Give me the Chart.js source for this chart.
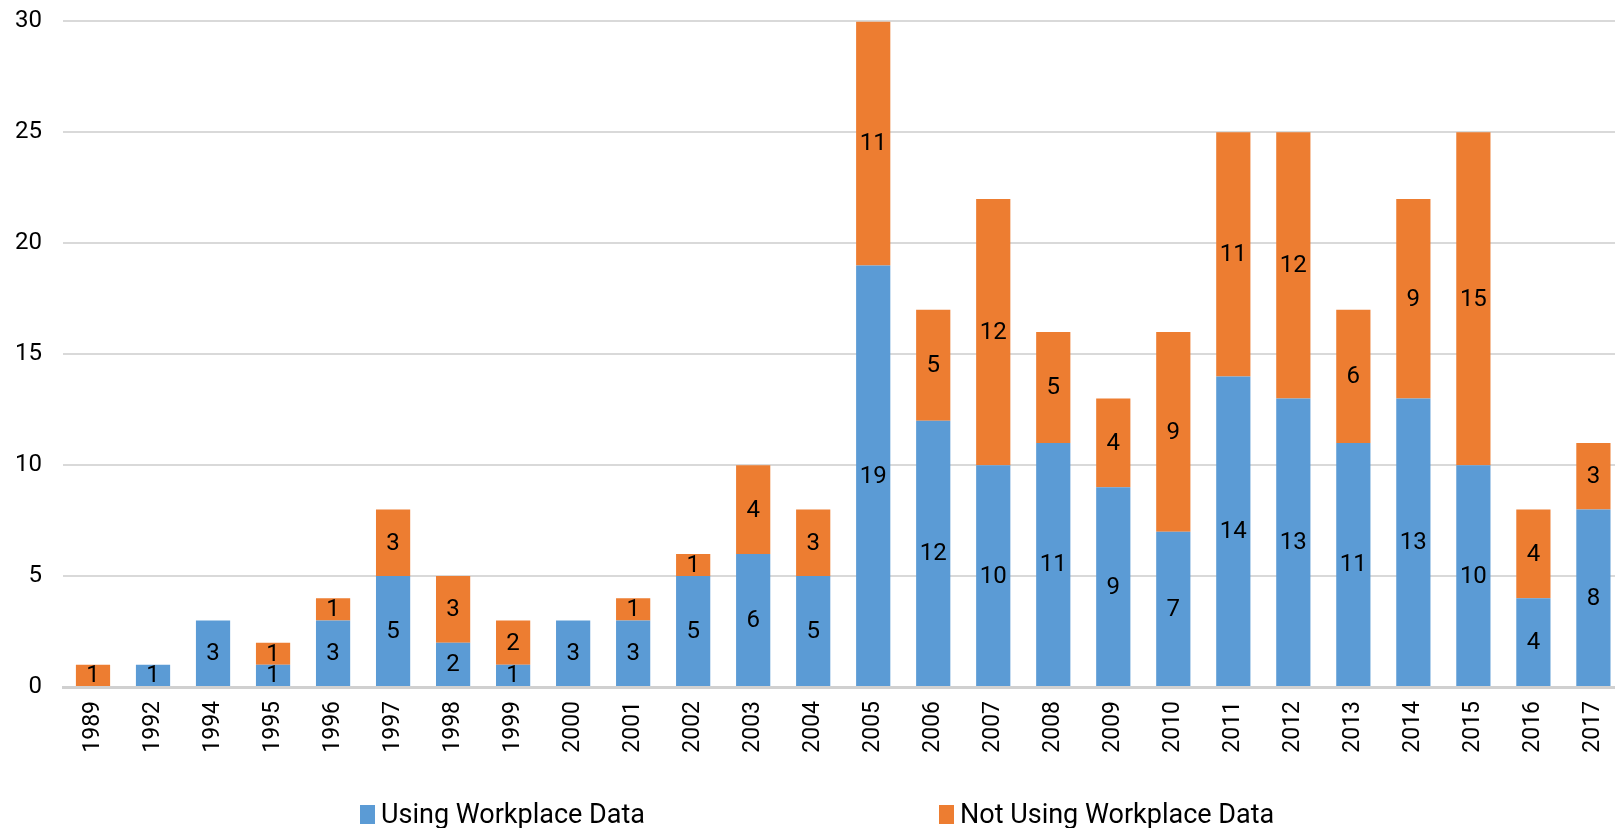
<!DOCTYPE html>
<html>
<head>
<meta charset="utf-8">
<script src="https://cdn.jsdelivr.net/npm/chart.js@4"></script>
<style>
  html, body { margin: 0; padding: 0; background: #fff; overflow: hidden; }
  #wrap { position: relative; width: 1635px; height: 828px; overflow: hidden; }
  #chart { position: absolute; left: 0; top: -14px; }
  #legend { position: absolute; top: 798px; left: 0; width: 1615px; font-family: Roboto, sans-serif; font-size: 27px; color: #000; }
  .item { position: absolute; top: 0; display: flex; align-items: center; white-space: nowrap; }
  .box { width: 15px; height: 19px; margin-right: 6px; }
</style>
</head>
<body>
<div id="wrap">
  <canvas id="chart" width="1635" height="842"></canvas>
  <div id="legend"></div>
</div>
<script>
const years = ["1989", "1992", "1994", "1995", "1996", "1997", "1998", "1999", "2000", "2001", "2002", "2003", "2004",
  "2005", "2006", "2007", "2008", "2009", "2010", "2011", "2012", "2013", "2014", "2015", "2016", "2017"];
const usingData = [0, 1, 3, 1, 3, 5, 2, 1, 3, 3, 5, 6, 5, 19, 12, 10, 11, 9, 7, 14, 13, 11, 13, 10, 4, 8];
const notUsingData = [1, 0, 0, 1, 1, 3, 3, 2, 0, 1, 1, 4, 3, 11, 5, 12, 5, 4, 9, 11, 12, 6, 9, 15, 4, 3];
const yTicks = [0, 5, 10, 15, 20, 25, 30];

const blue = "#5B9BD5";
const orange = "#ED7D31";

// Etiquetas de valor dentro de cada segmento
const valueLabels = {
    id: "valueLabels",
    afterDatasetsDraw(chart) {
        const ctx = chart.ctx;
        ctx.save();
        ctx.font = "24px Roboto, sans-serif";
        ctx.fillStyle = "#000";
        ctx.textAlign = "center";
        ctx.textBaseline = "middle";
        chart.data.datasets.forEach(function (ds, i) {
            chart.getDatasetMeta(i).data.forEach(function (bar, j) {
                const v = ds.data[j];
                if (!v) return;
                const p = bar.getProps(["x", "y", "base"], true);
                ctx.fillText(String(v), p.x, (p.y + p.base) / 2 + 1);
            });
        });
        ctx.restore();
    }
};

const ctx = document.getElementById("chart").getContext("2d");
new Chart(ctx, {
    type: "bar",
    data: {
        labels: years,
        datasets: [
            { label: "Using Workplace Data", data: usingData, backgroundColor: blue, borderWidth: 0 },
            { label: "Not Using Workplace Data", data: notUsingData, backgroundColor: orange, borderWidth: 0 }
        ]
    },
    options: {
        responsive: false,
        animation: false,
        layout: { padding: { top: 8, right: 0, bottom: 0, left: 0 } },
        plugins: {
            legend: { display: false },
            tooltip: { enabled: false }
        },
        datasets: { bar: { categoryPercentage: 1, barPercentage: 0.57 } },
        scales: {
            x: {
                stacked: true,
                grid: { display: false, drawTicks: false },
                border: { display: true, color: "#d0d0d0", width: 3 },
                afterFit: function (scale) { scale.height = 141; },
                ticks: {
                    color: "#000",
                    font: { family: "Roboto, sans-serif", size: 23 },
                    minRotation: 90,
                    maxRotation: 90,
                    padding: 14,
                    autoSkip: false
                }
            },
            y: {
                stacked: true,
                min: 0,
                max: 30,
                afterFit: function (scale) { scale.width = 63; },
                afterBuildTicks: function (scale) { scale.ticks = yTicks.map(function (v) { return { value: v }; }); },
                grid: { color: "#d9d9d9", lineWidth: 2, drawTicks: false },
                border: { display: false },
                ticks: {
                    color: "#000",
                    font: { family: "Roboto, sans-serif", size: 24 },
                    padding: 21
                }
            }
        }
    },
    plugins: [valueLabels]
});

// Leyenda
const legend = document.getElementById("legend");
[["Using Workplace Data", blue, 360], ["Not Using Workplace Data", orange, 939]].forEach(function (it) {
    const d = document.createElement("div");
    d.className = "item";
    d.style.left = it[2] + "px";
    d.innerHTML = '<span class="box" style="background:' + it[1] + '"></span><span>' + it[0] + '</span>';
    legend.appendChild(d);
});
</script>
</body>
</html>
